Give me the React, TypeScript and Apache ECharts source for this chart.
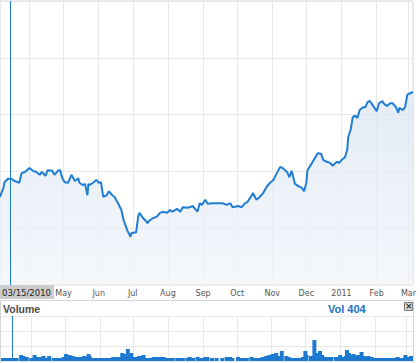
import React, { useEffect, useRef } from "react";
import * as echarts from "echarts";

const priceDates = [
  "2010-03-06", "2010-03-09", "2010-03-10", "2010-03-13", "2010-03-16", "2010-03-19", "2010-03-23", "2010-03-25", "2010-03-28",
  "2010-04-01", "2010-04-04", "2010-04-07", "2010-04-10", "2010-04-12", "2010-04-15", "2010-04-17", "2010-04-21", "2010-04-23", "2010-04-26", "2010-04-28", "2010-04-30",
  "2010-05-02", "2010-05-05", "2010-05-08", "2010-05-11", "2010-05-14", "2010-05-15", "2010-05-18", "2010-05-20", "2010-05-22", "2010-05-23", "2010-05-24", "2010-05-27", "2010-05-30",
  "2010-06-01", "2010-06-03", "2010-06-05", "2010-06-08", "2010-06-10", "2010-06-13", "2010-06-15", "2010-06-18", "2010-06-21", "2010-06-23", "2010-06-26", "2010-06-29", "2010-06-30",
  "2010-07-02", "2010-07-04", "2010-07-06", "2010-07-07", "2010-07-10", "2010-07-12", "2010-07-14", "2010-07-16", "2010-07-19", "2010-07-22", "2010-07-25", "2010-07-28", "2010-07-31",
  "2010-08-03", "2010-08-05", "2010-08-09", "2010-08-12", "2010-08-14", "2010-08-18", "2010-08-20", "2010-08-23", "2010-08-27", "2010-08-28", "2010-08-29", "2010-08-31",
  "2010-09-03", "2010-09-05", "2010-09-09", "2010-09-13", "2010-09-18", "2010-09-22", "2010-09-25", "2010-09-27",
  "2010-10-02", "2010-10-05", "2010-10-08", "2010-10-10", "2010-10-14", "2010-10-15", "2010-10-18", "2010-10-21", "2010-10-24", "2010-10-27", "2010-10-30",
  "2010-11-02", "2010-11-05", "2010-11-08", "2010-11-10", "2010-11-14", "2010-11-16", "2010-11-18", "2010-11-21", "2010-11-24", "2010-11-27", "2010-11-29",
  "2010-12-01", "2010-12-02", "2010-12-06", "2010-12-09", "2010-12-11", "2010-12-14", "2010-12-16", "2010-12-19", "2010-12-22", "2010-12-24", "2010-12-28", "2010-12-30",
  "2011-01-01", "2011-01-04", "2011-01-06", "2011-01-07", "2011-01-09", "2011-01-11", "2011-01-13", "2011-01-15", "2011-01-17", "2011-01-20", "2011-01-22", "2011-01-24", "2011-01-26", "2011-01-29", "2011-01-30",
  "2011-02-01", "2011-02-03", "2011-02-06", "2011-02-07", "2011-02-10", "2011-02-13", "2011-02-15", "2011-02-18", "2011-02-20", "2011-02-21", "2011-02-24", "2011-02-26", "2011-02-28",
  "2011-03-03", "2011-03-05",
];

const closes = [
  15.5, 17.1, 18.1, 18.7, 18.7, 18.3, 18.0, 19.7, 19.9,
  20.6, 20.1, 19.9, 19.4, 19.9, 19.2, 20.2, 20.1, 19.4, 20.1, 20.2, 18.8,
  18.1, 18.0, 19.4, 18.3, 18.8, 18.0, 17.6, 17.8, 15.8, 17.8, 17.6, 18.0, 18.5,
  18.0, 18.1, 15.5, 15.8, 16.5, 15.8, 15.5, 14.4, 13.2, 11.4, 9.7, 8.5, 9.2,
  9.2, 9.3, 12.3, 12.7, 11.8, 11.4, 10.9, 11.4, 11.8, 12.0, 12.7, 12.9, 12.7,
  13.2, 12.9, 13.4, 12.9, 13.7, 13.6, 13.7, 13.9, 12.9, 13.6, 14.4, 14.1,
  15.0, 14.3, 14.4, 14.4, 14.4, 14.1, 14.4, 13.7,
  13.9, 13.7, 14.4, 14.6, 15.8, 16.2, 15.0, 15.5, 16.2, 17.3, 18.0,
  18.5, 19.7, 20.8, 20.6, 19.9, 19.0, 20.1, 17.8, 17.4, 17.1, 16.5,
  18.0, 20.2, 21.5, 22.5, 23.2, 23.1, 22.0, 21.7, 21.5, 21.0, 21.7, 21.5,
  22.0, 22.5, 23.8, 26.1, 27.3, 29.6, 29.8, 29.4, 30.8, 31.3, 31.3, 32.2, 32.4, 31.5, 31.2,
  30.6, 32.0, 32.4, 32.0, 31.5, 32.0, 32.0, 31.3, 30.3, 31.2, 30.8, 31.3, 33.5,
  33.8, 34.0,
];

const volumes = [
  240, 240, 240, 240, 240, 240, 480, 400, 320,
  240, 480, 320, 320, 400, 240, 400, 240, 240, 240, 240, 320,
  560, 480, 400, 320, 320, 320, 400, 320, 560, 400, 240, 240, 240,
  240, 240, 240, 240, 240, 320, 320, 320, 640, 560, 960, 640, 320,
  320, 320, 400, 400, 480, 240, 240, 240, 320, 320, 320, 320, 240,
  240, 240, 240, 240, 240, 240, 320, 240, 320, 240, 240, 240,
  320, 320, 240, 240, 240, 320, 320, 240,
  320, 240, 240, 240, 320, 240, 240, 240, 320, 400, 480,
  560, 640, 400, 800, 400, 320, 240, 240, 240, 240, 320,
  800, 480, 400, 1680, 640, 800, 480, 320, 320, 320, 320, 320,
  480, 320, 400, 880, 640, 480, 560, 400, 480, 720, 400, 320, 400, 320, 240,
  240, 240, 240, 240, 240, 240, 240, 240, 240, 320, 240, 240, 480,
  320, 400,
];

const monthNames = ["Jan", "Feb", "Mar", "Apr", "May", "Jun", "Jul", "Aug", "Sep", "Oct", "Nov", "Dec"];
const hiddenTickLabel = "2010-04"; // covered by the marker date box in the reference
const markerDate = "2010-03-15";
const markerLabel = "03/15/2010";
const volumeTitle = "Volume";
const volumeReadout = "Vol 404";
const axisStart = "2010-03-06";
const axisEnd = "2011-03-05";

function tickLabel(value: number): string {
  const d = new Date(value);
  const y = d.getFullYear();
  const m = d.getMonth();
  const key = `${y}-${String(m + 1).padStart(2, "0")}`;
  if (key === hiddenTickLabel) return "";
  return m === 0 ? String(y) : monthNames[m];
}

export default function App() {
  const ref = useRef<HTMLDivElement>(null);
  useEffect(() => {
    document.body.style.margin = "0";
    if (!ref.current) return;
    const chart = echarts.init(ref.current, undefined, { renderer: "svg" });
    const priceData = priceDates.map((d, i) => [d, closes[i]]);
    const volData = priceDates.map((d, i) => [d, volumes[i]]);
    const gridLine = { show: true, lineStyle: { color: "#e8e8e8", width: 1 } };
    const markerLine = {
      silent: true,
      symbol: ["none", "none"],
      label: { show: false },
      lineStyle: { color: "#1a7bd1", width: 1, type: "solid" as const },
      data: [{ xAxis: markerDate }],
    };
    chart.setOption({
      animation: false,
      backgroundColor: "#ffffff",
      grid: [
        { left: 0, top: 1, width: 413, height: 284, show: true, borderColor: "#d8d8d8", borderWidth: 1 },
        { left: 0, top: 316, width: 413, height: 45, show: false },
      ],
      xAxis: [
        {
          type: "time",
          gridIndex: 0,
          min: axisStart,
          max: axisEnd,
          minInterval: 28 * 86400000,
          maxInterval: 31 * 86400000,
          axisLine: { show: false },
          axisTick: { show: false },
          splitLine: gridLine,
          axisLabel: {
            color: "#555555",
            fontFamily: "DejaVu Sans",
            fontSize: 8,
            margin: 4,
            hideOverlap: false,
            formatter: tickLabel,
          },
        },
        {
          type: "time",
          gridIndex: 1,
          min: axisStart,
          max: axisEnd,
          minInterval: 28 * 86400000,
          maxInterval: 31 * 86400000,
          axisLine: { show: false },
          axisTick: { show: false },
          splitLine: gridLine,
          axisLabel: { show: false },
        },
      ],
      yAxis: [
        {
          type: "value",
          gridIndex: 0,
          min: 0,
          max: 50,
          interval: 10,
          axisLine: { show: false },
          axisTick: { show: false },
          axisLabel: { show: false },
          splitLine: gridLine,
        },
        {
          type: "value",
          gridIndex: 1,
          min: 0,
          max: 3600,
          interval: 1200,
          axisLine: { show: false },
          axisTick: { show: false },
          axisLabel: { show: false },
          splitLine: gridLine,
        },
      ],
      series: [
        {
          type: "line",
          xAxisIndex: 0,
          yAxisIndex: 0,
          data: priceData,
          showSymbol: false,
          symbol: "none",
          lineStyle: { color: "#1f7ed3", width: 2 },
          areaStyle: {
            color: new echarts.graphic.LinearGradient(0, 0, 0, 1, [
              { offset: 0, color: "#d9e4f3" },
              { offset: 1, color: "#f1f4f9" },
            ]),
          },
          markLine: markerLine,
          z: 3,
        },
        {
          type: "bar",
          xAxisIndex: 1,
          yAxisIndex: 1,
          data: volData,
          barWidth: 4,
          itemStyle: { color: "#1b79d0" },
          markLine: markerLine,
        },
      ],
      graphic: [
        {
          type: "rect",
          shape: { x: 0.5, y: 300.5, width: 413, height: 63 },
          style: { fill: "none", stroke: "#d6d6d6", lineWidth: 1 },
          silent: true,
          z: 10,
        },
        {
          type: "text",
          left: 0,
          top: 285,
          style: {
            text: markerLabel,
            fill: "#1e1e1e",
            font: "8.5px 'DejaVu Sans'",
            backgroundColor: "#cccccc",
            padding: [3, 3, 2, 2],
          },
          z: 20,
        },
        {
          type: "text",
          left: 3,
          top: 303,
          style: { text: volumeTitle, fill: "#4e4a45", font: "bold 10.5px 'Liberation Sans'" },
          z: 20,
        },
        {
          type: "text",
          left: 328,
          top: 303,
          style: { text: volumeReadout, fill: "#1a70c6", font: "bold 11px 'Liberation Sans'" },
          z: 20,
        },
        {
          type: "rect",
          shape: { x: 404.5, y: 302.5, width: 8, height: 8 },
          style: { fill: "#d9d9d9", stroke: "#7a7a7a", lineWidth: 1 },
          z: 20,
        },
        {
          type: "text",
          left: 405,
          top: 301,
          style: { text: "×", fill: "#333333", font: "bold 9px 'DejaVu Sans'" },
          z: 21,
        },
      ],
    });
    return () => chart.dispose();
  }, []);
  return <div ref={ref} style={{ width: 420, height: 363 }} />;
}
